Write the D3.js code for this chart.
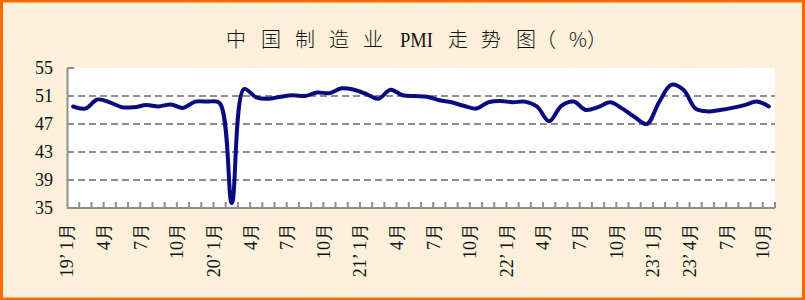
<!DOCTYPE html>
<html><head><meta charset="utf-8">
<script src="https://cdn.jsdelivr.net/npm/d3@7/dist/d3.min.js"></script>
<style>
html,body{margin:0;padding:0;background:#fff;}
svg{display:block;}
</style></head>
<body>
<svg id="c" width="805" height="300"></svg>
<script>
const titleParts = ["中","国","制","造","业","PMI","走","势","图","（","%","）"];
const months = [
 "2019-01","2019-02","2019-03","2019-04","2019-05","2019-06","2019-07","2019-08","2019-09","2019-10","2019-11","2019-12",
 "2020-01","2020-02","2020-03","2020-04","2020-05","2020-06","2020-07","2020-08","2020-09","2020-10","2020-11","2020-12",
 "2021-01","2021-02","2021-03","2021-04","2021-05","2021-06","2021-07","2021-08","2021-09","2021-10","2021-11","2021-12",
 "2022-01","2022-02","2022-03","2022-04","2022-05","2022-06","2022-07","2022-08","2022-09","2022-10","2022-11","2022-12",
 "2023-01","2023-02","2023-03","2023-04","2023-05","2023-06","2023-07","2023-08","2023-09","2023-10"];
const pmi = [
 49.5,49.2,50.5,50.1,49.4,49.4,49.7,49.5,49.8,49.3,50.2,50.2,
 50.0,35.7,52.0,50.8,50.6,50.9,51.1,51.0,51.5,51.4,52.1,51.9,
 51.3,50.6,51.9,51.1,51.0,50.9,50.4,50.1,49.6,49.2,50.1,50.3,
 50.1,50.2,49.5,47.4,49.6,50.2,49.0,49.4,50.1,49.2,48.0,47.0,
 50.1,52.6,51.9,49.2,48.8,49.0,49.3,49.7,50.2,49.5];
const labelIdx = [0,3,6,9,12,15,18,21,24,27,30,33,36,39,42,45,48,51,54,57];
const labelText = ["19’ 1月","4月","7月","10月","20’ 1月","4月","7月","10月","21’ 1月","4月","7月","10月",
 "22’ 1月","4月","7月","10月","23’ 1月","23’ 4月","7月","10月"];
const yTicks = [35,39,43,47,51,55];
const gridVals = [39,43,47,51];

const svg = d3.select("#c");
const W = 805, H = 300;
const serif = "'Liberation Serif','Times New Roman',serif";

// background parchment
const defs = svg.append("defs");
const flt = defs.append("filter").attr("id","tex").attr("x",0).attr("y",0).attr("width","100%").attr("height","100%");
flt.append("feTurbulence").attr("type","fractalNoise").attr("baseFrequency",0.02).attr("numOctaves",3).attr("seed",4).attr("result","n");
flt.append("feColorMatrix").attr("in","n").attr("type","matrix")
  .attr("values","0 0 0 0 0.98  0 0 0 0 0.91  0 0 0 0 0.78  0 0 0 0.45 0").attr("result","c");
flt.append("feComposite").attr("in","c").attr("in2","SourceGraphic").attr("operator","in");
svg.append("rect").attr("width",W).attr("height",H).attr("fill","#fdf0d9");
svg.append("rect").attr("width",W).attr("height",H).attr("fill","#fdf0d9").attr("filter","url(#tex)").attr("opacity",0.6);
// orange border
svg.append("rect").attr("x",1.5).attr("y",1).attr("width",W-3).attr("height",H-2)
  .attr("fill","none").attr("stroke","#ff6a00").attr("stroke-width",3);

const plot = {l:67, r:775, t:68, b:208};
const x = d3.scaleBand().domain(months).range([plot.l, plot.r]).padding(0);
const y = d3.scaleLinear().domain([35,55]).range([plot.b, plot.t]);

// plot area
svg.append("rect").attr("x",plot.l).attr("y",plot.t).attr("width",plot.r-plot.l).attr("height",plot.b-plot.t).attr("fill","#fff");

// grid
svg.append("g").selectAll("line").data(gridVals).join("line")
  .attr("x1",plot.l).attr("x2",plot.r).attr("y1",d=>y(d)).attr("y2",d=>y(d))
  .attr("stroke","#8f8f8f").attr("stroke-width",2).attr("stroke-dasharray","7,4");

// y axis
const yAx = svg.append("g").attr("transform",`translate(${plot.l},0)`)
  .call(d3.axisLeft(y).tickValues(yTicks).tickSize(0).tickPadding(14).tickFormat(d3.format("d")));
yAx.select(".domain").attr("stroke","#8f8f8f").attr("stroke-width",2);
yAx.selectAll("text").attr("font-family",serif).attr("font-size",18).attr("fill","#111");
svg.append("line").attr("x1",plot.l).attr("x2",plot.l+7).attr("y1",y(55)).attr("y2",y(55)).attr("stroke","#8f8f8f").attr("stroke-width",2);

// x axis with inside ticks at category boundaries
const bounds = months.slice(1).map(m => x(m)).concat([plot.r]);
svg.append("g").selectAll("line").data(bounds).join("line")
  .attr("x1",d=>d).attr("x2",d=>d).attr("y1",plot.b).attr("y2",plot.b-6)
  .attr("stroke","#8f8f8f").attr("stroke-width",2);
svg.append("line").attr("x1",plot.l).attr("x2",plot.r).attr("y1",plot.b).attr("y2",plot.b)
  .attr("stroke","#8f8f8f").attr("stroke-width",2);

// x labels rotated
svg.append("g").selectAll("text").data(labelIdx).join("text")
  .attr("transform",d=>`translate(${x(months[d]) + x.bandwidth()/2 - 6},${plot.b+15}) rotate(-90)`)
  .attr("text-anchor","end").attr("dy","0.35em")
  .attr("font-family",serif).attr("font-size",18).attr("fill","#111")
  .text((d,i)=>labelText[i]);

// line
const line = d3.line().x((d,i)=>x(months[i]) + x.bandwidth()/2).y(d=>y(d)).curve(d3.curveCatmullRom.alpha(0.5));
svg.append("path").datum(pmi).attr("d",line).attr("fill","none")
  .attr("stroke","#0b0b80").attr("stroke-width",4).attr("stroke-linejoin","round").attr("stroke-linecap","round");

// title: each piece placed along the line
const titleX = [226,261,295,329,363,400,448,481,516,536,569,587];
const t = svg.append("text").attr("y",47).attr("font-size",20).attr("fill","#111")
  .attr("font-family","'Noto Sans CJK SC','Noto Sans',sans-serif").attr("font-weight",300);
titleParts.forEach((p,i)=>{
  const ts = t.append("tspan").attr("x",titleX[i]).text(p);
  if (p === "PMI") ts.attr("font-family",serif).attr("textLength",33).attr("lengthAdjust","spacingAndGlyphs");
});
</script>
</body></html>
